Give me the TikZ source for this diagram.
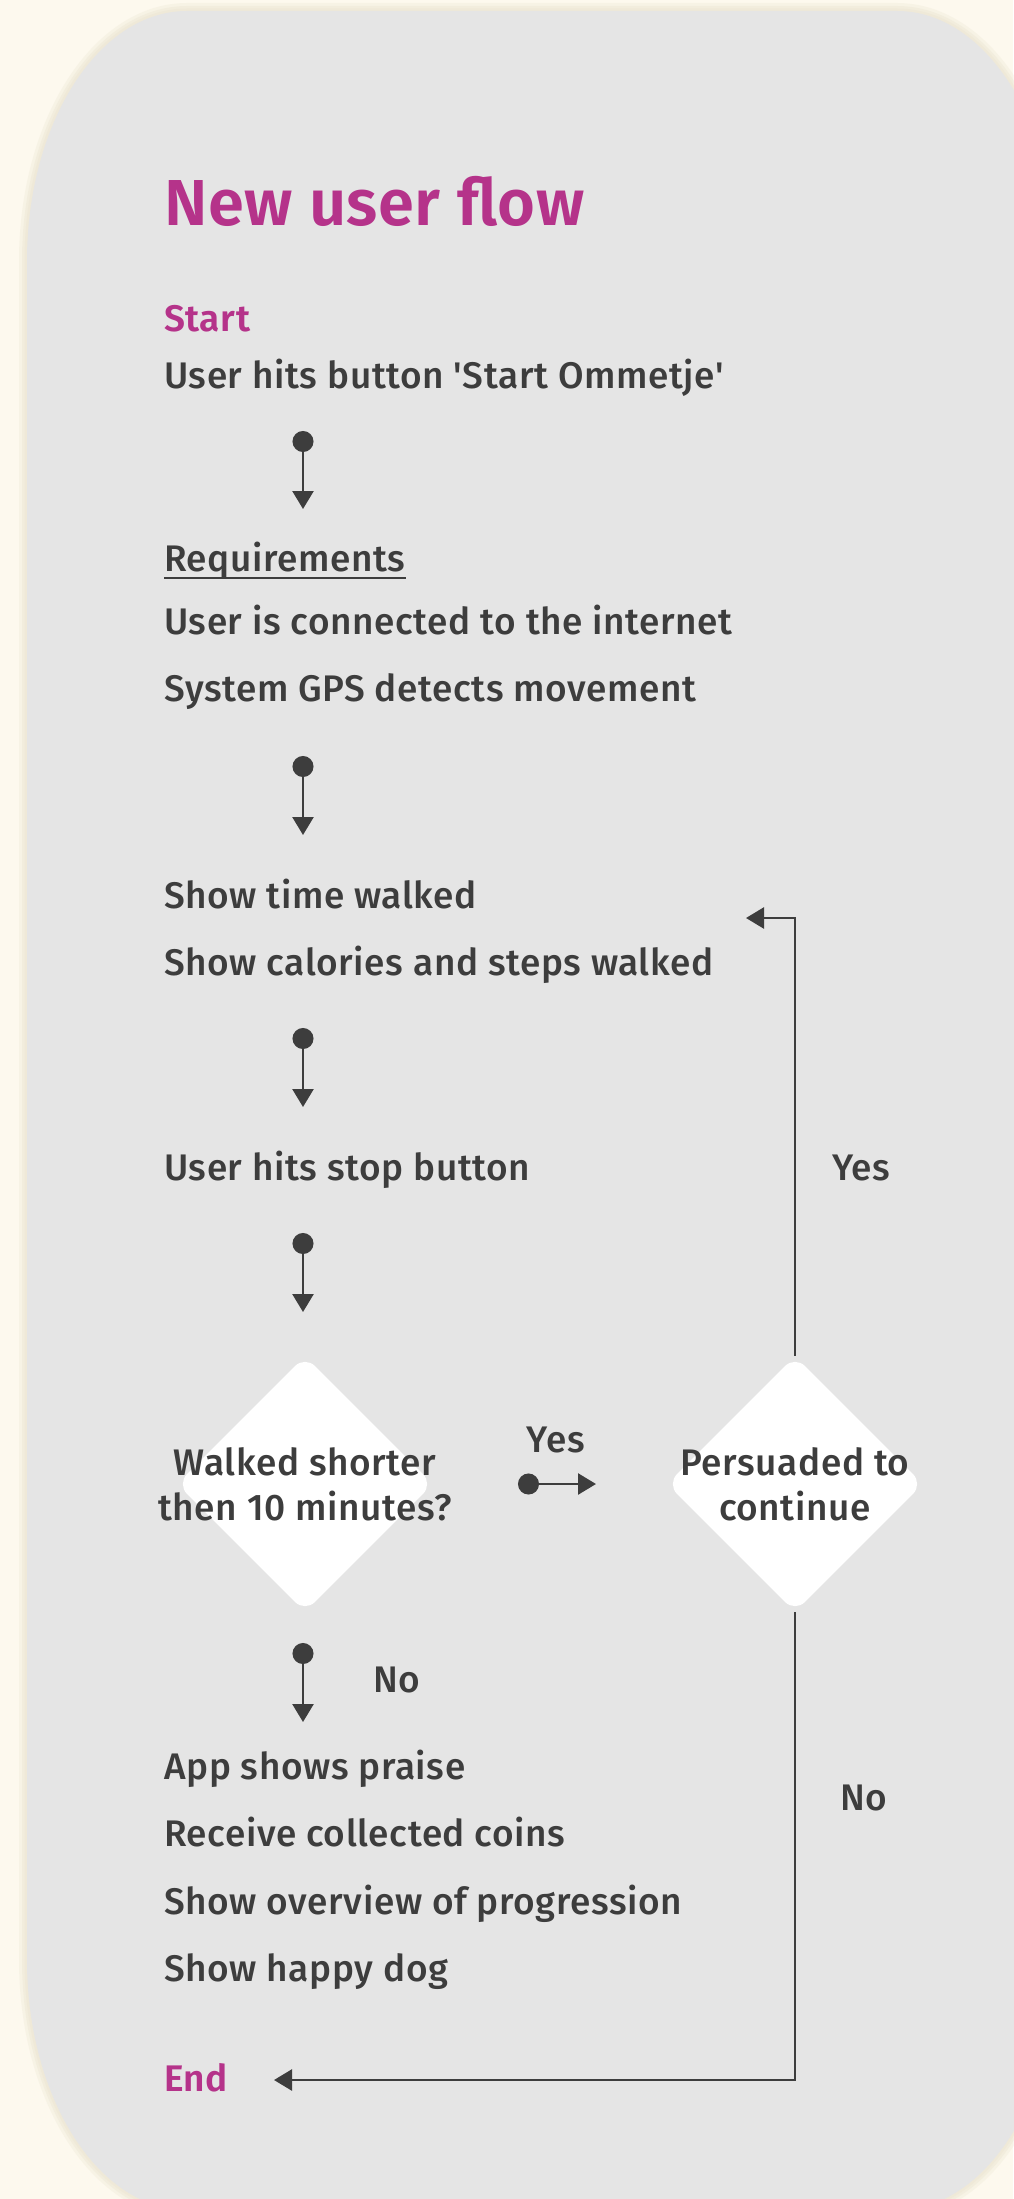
\documentclass[tikz,border=0pt]{standalone}
\usepackage{fontspec}
\newfontfamily\bodyfont{Fira Sans}[UprightFont={* Medium}, BoldFont={* SemiBold}, LetterSpace=1.6]
\newfontfamily\titlefont{Fira Sans}[UprightFont={* SemiBold}, LetterSpace=0.8]
\usetikzlibrary{arrows.meta,shapes.geometric}
\definecolor{cream}{HTML}{FDF9EE}
\definecolor{panelgray}{HTML}{E5E5E5}
\definecolor{brandpink}{HTML}{B5338A}
\definecolor{ink}{HTML}{3D3D3D}
\definecolor{shadowtone}{HTML}{EEE8D6}
\begin{document}
\begin{tikzpicture}[x=1pt,y=1pt,
  txt/.style={anchor=base west, inner sep=0pt, text=ink, font=\bodyfont\fontsize{37}{45}\selectfont},
  ttl/.style={anchor=base west, inner sep=0pt, text=brandpink, font=\titlefont\fontsize{65}{70}\selectfont},
  head/.style={anchor=base west, inner sep=0pt, text=brandpink, font=\bodyfont\bfseries\fontsize{37}{45}\selectfont},
  lbl/.style={inner sep=0pt, text=ink, font=\bodyfont\fontsize{37}{45}\selectfont},
  dtext/.style={inner sep=0pt, text=ink, align=center, font=\bodyfont\fontsize{37}{45}\selectfont},
  decision/.style={diamond, fill=white, minimum width=256pt, minimum height=256pt, inner sep=0pt, rounded corners=14pt},
  flow/.style={draw=ink, line width=2.6pt, {Circle[length=21pt]}-{Triangle[length=18pt,width=21pt]}},
  link/.style={draw=ink, line width=2.6pt, -{Triangle[length=18pt,width=21pt]}},
  panelpath/.style={}
]
\useasboundingbox (0,0) rectangle (1013,-2199);
\fill[cream] (0,0) rectangle (1013,-2199);
% panel soft shadow
\foreach \w/\o in {16/0.35,10/0.5,5/0.7}{
\draw[draw=shadowtone, line width=\w pt, draw opacity=\o] (187,-11) -- (897,-11) arc[start angle=90,end angle=0,x radius=160,y radius=250] -- (1057,-1960) arc[start angle=0,end angle=-90,x radius=160,y radius=250] -- (187,-2210) arc[start angle=270,end angle=180,x radius=160,y radius=250] -- (27,-261) arc[start angle=180,end angle=90,x radius=160,y radius=250] -- cycle;
}
\fill[panelgray] (187,-11) -- (897,-11) arc[start angle=90,end angle=0,x radius=160,y radius=250] -- (1057,-1960) arc[start angle=0,end angle=-90,x radius=160,y radius=250] -- (187,-2210) arc[start angle=270,end angle=180,x radius=160,y radius=250] -- (27,-261) arc[start angle=180,end angle=90,x radius=160,y radius=250] -- cycle;

% texts
\node[ttl] (title) at (164,-226) {New user flow};
\node[head] (start) at (164,-331) {Start};
\node[txt] (s1) at (164,-388) {User hits button 'Start Ommetje'};
\node[txt] (req) at (164,-571) {Requirements};
\draw[ink, line width=2.2pt] ([yshift=-7pt]req.base west) -- ([yshift=-7pt]req.base east);
\node[txt] (r1) at (164,-634) {User is connected to the internet};
\node[txt] (r2) at (164,-701) {System GPS detects movement};
\node[txt] (w1) at (164,-908) {Show time walked};
\node[txt] (w2) at (164,-975) {Show calories and steps walked};
\node[txt] (stop) at (164,-1180) {User hits stop button};
\node[txt] (p1) at (164,-1779) {App shows praise};
\node[txt] (p2) at (164,-1846) {Receive collected coins};
\node[txt] (p3) at (164,-1914) {Show overview of progression};
\node[txt] (p4) at (164,-1981) {Show happy dog};
\node[head] (endn) at (164,-2091) {End};

% decisions
\node[decision] (d1) at (305,-1484) {};
\node[dtext] (d1t) at (d1.center) {Walked shorter\\then 10 minutes?};
\node[decision] (d2) at (795,-1484) {};
\node[dtext] (d2t) at (d2.center) {Persuaded to\\continue};

% connector end points
\coordinate (a1s) at (303,-431); \coordinate (a1e) at (303,-509);
\coordinate (a2s) at (303,-756); \coordinate (a2e) at (303,-835);
\coordinate (a3s) at (303,-1028); \coordinate (a3e) at (303,-1107);
\coordinate (a4s) at (303,-1233); \coordinate (a4e) at (303,-1312);
\coordinate (a5s) at (303,-1643); \coordinate (a5e) at (303,-1722);
\coordinate (hs) at (518,-1484); \coordinate (he) at (596,-1484);
\coordinate (lp) at (746,-918);
\coordinate (ep) at (274,-2080);

\draw[flow] (a1s) -- (a1e);
\draw[flow] (a2s) -- (a2e);
\draw[flow] (a3s) -- (a3e);
\draw[flow] (a4s) -- (a4e);
\draw[flow] (a5s) -- (a5e);
\draw[flow] (hs) -- (he);
\draw[link] (d2.north) |- (lp);
\draw[link] (d2.south) |- (ep);

% labels
\node[lbl, anchor=base] (yes1) at (556,-1452) {Yes};
\node[lbl, anchor=base west] (no1) at (373,-1692) {No};
\node[lbl, anchor=base west] (yes2) at (832,-1180) {Yes};
\node[lbl, anchor=base west] (no2) at (840,-1810) {No};
\end{tikzpicture}
\end{document}
